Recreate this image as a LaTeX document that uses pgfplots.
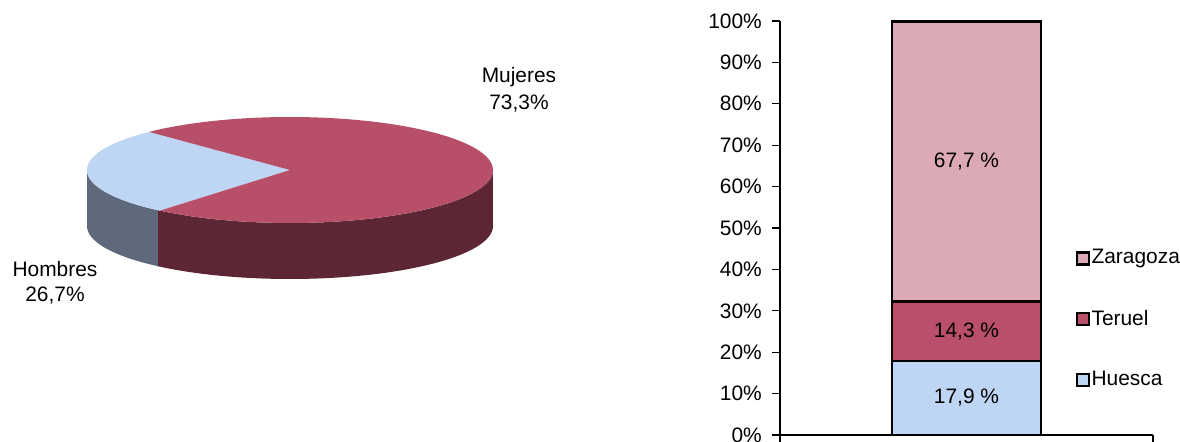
\documentclass[border=0pt]{standalone}
\usepackage{pgfplots}
\pgfplotsset{compat=1.18}
\usepackage{fontspec}
\setmainfont{Liberation Sans}
\definecolor{mujtop}{RGB}{184,79,104}
\definecolor{mujside}{RGB}{92,38,53}
\definecolor{homtop}{RGB}{190,213,243}
\definecolor{homside}{RGB}{94,106,124}
\definecolor{zarag}{RGB}{220,170,182}
\definecolor{teruel}{RGB}{185,79,105}
\definecolor{huesca}{RGB}{190,213,243}
\begin{document}
\fontsize{21}{24}\selectfont
\begin{tikzpicture}[x=1bp,y=1bp]
\useasboundingbox (0bp,0bp) rectangle (1180bp,442bp);
% ---- pie data (percent) ----
\pgfmathsetmacro{\hom}{26.7}
\pgfmathsetmacro{\muj}{73.3}
\pgfmathsetmacro{\hs}{134}
\pgfmathsetmacro{\he}{\hs+3.6*\hom}
\pgfmathsetmacro{\hep}{\he-0.6}
\pgfmathsetmacro{\me}{\he+3.6*\muj}
\begin{axis}[at={(0bp,0bp)}, anchor=south west, scale only axis,
  width=590bp, height=442bp, xmin=0, xmax=590, ymin=0, ymax=442,
  hide axis, clip=false,
  declare function={
    sidet(\s,\a,\b)=\a+min(\s,2-\s)*(\b-\a);
    sidey(\s)=(\s>1.000001)*56;
    topt(\s,\a,\b)=\a+max(\s,0)*(\b-\a);
    topr(\s)=(\s>-0.005);
  }]
% side faces
\addplot[draw=none, fill=homside, domain=0:2, samples=201, variable=\s]
  ({290+203*cos(sidet(\s,180,\he))}, {272-sidey(\s)+53*sin(sidet(\s,180,\he))});
\addplot[draw=none, fill=mujside, domain=0:2, samples=201, variable=\s]
  ({290+203*cos(sidet(\s,\hep,360))}, {272-sidey(\s)+53*sin(sidet(\s,\hep,360))});
% top faces
\addplot[draw=none, fill=homtop, domain=-0.01:1, samples=102, variable=\s]
  ({290+topr(\s)*203*cos(topt(\s,\hs,\he))}, {272+topr(\s)*53*sin(topt(\s,\hs,\he))});
\addplot[draw=none, fill=mujtop, domain=-0.01:1, samples=102, variable=\s]
  ({290+topr(\s)*203*cos(topt(\s,\he,\me))}, {272+topr(\s)*53*sin(topt(\s,\he,\me))});
\node at (axis cs:519,365) {Mujeres};
\node at (axis cs:519,338) {73,3\%};
\node at (axis cs:55,173) {Hombres};
\node at (axis cs:55,146) {26,7\%};
\end{axis}
% ---- stacked bar ----
\begin{axis}[at={(780bp,7bp)}, anchor=south west, scale only axis,
  width=373bp, height=414bp, xmin=0, xmax=1, ymin=0, ymax=100,
  ybar stacked, bar width=149bp,
  axis x line*=bottom, axis y line*=left,
  axis line style={-, line width=1.2bp},
  ytick={0,10,...,100}, yticklabel={\pgfmathprintnumber{\tick}\%},
  /pgf/number format/assume math mode=true,
  xtick={0,1}, xticklabels={},
  tick align=outside, major tick length=8bp,
  tick style={black, line width=1.2bp},
  yticklabel style={inner sep=0bp, xshift=-10bp},
  reverse legend,
  legend style={at={(axis description cs:0.792,0.452)}, anchor=north west,
    draw=none, fill=none, row sep=40bp, inner sep=0pt,
    nodes={inner sep=1.5bp}},
  legend cell align=left,
  sqlegend/.style={legend image code/.code={
    \draw[##1, line width=2.4bp] (0bp,-6bp) rectangle (12bp,6bp);}},
  clip=false]
\addplot[fill=huesca, draw=black, line width=2.5bp, sqlegend] coordinates {(0.5,17.9)};
\addplot[fill=teruel, draw=black, line width=2.5bp, sqlegend] coordinates {(0.5,14.3)};
\addplot[fill=zarag, draw=black, line width=2.5bp, sqlegend] coordinates {(0.5,67.7)};
\legend{Huesca,Teruel,Zaragoza}
\coordinate (lh) at (axis cs:0.5,8.95);
\coordinate (lt) at (axis cs:0.5,25.05);
\coordinate (lz) at (axis cs:0.5,66.05);
\end{axis}
\node at (lh) {17,9 \%};
\node at (lt) {14,3 \%};
\node at (lz) {67,7 \%};
\end{tikzpicture}
\end{document}
